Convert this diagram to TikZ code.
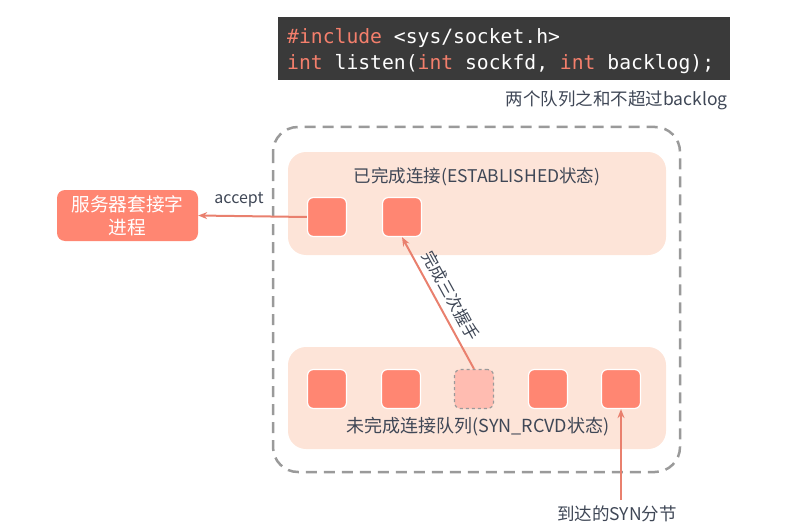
\documentclass[tikz,border=0pt]{standalone}
\usepackage{fontspec}
\setmainfont{Noto Sans CJK SC}
\setmonofont{DejaVu Sans Mono}
\usetikzlibrary{arrows.meta}
\definecolor{salmon}{HTML}{FF8672}
\definecolor{band}{HTML}{FDE4D8}
\definecolor{arrowc}{HTML}{E9806E}
\definecolor{txt}{HTML}{3F4756}
\definecolor{codebg}{HTML}{3A3A3A}
\definecolor{kw}{HTML}{F47F6C}
\definecolor{dashg}{HTML}{9A9A9A}
\tikzset{
  sq/.style={draw=white, line width=1.2pt, fill=salmon, rounded corners=6pt, minimum width=39pt, minimum height=39pt, inner sep=0pt},
  bandbox/.style={fill=band, rounded corners=18pt},
  lbl/.style={text=txt, font=\fontsize{17.5}{20}\selectfont, inner sep=0pt},
  conn/.style={draw=arrowc, line width=2pt, -{Stealth[length=9pt,width=7pt]}},
}
\begin{document}
\begin{tikzpicture}[x=1pt,y=-1pt]
\useasboundingbox (0,0) rectangle (800,532);
% code box
\fill[codebg] (278,17) rectangle (730,80);
\node[anchor=base west, inner sep=0pt, font=\ttfamily\fontsize{19.7}{22}\selectfont, text=white] (code1) at (287,44) {\textcolor{kw}{\#include} <sys/socket.h>};
\node[anchor=base west, inner sep=0pt, font=\ttfamily\fontsize{19.7}{22}\selectfont, text=white] (code2) at (287,70) {\textcolor{kw}{int} listen(\textcolor{kw}{int} sockfd, \textcolor{kw}{int} backlog);};
\node[lbl, anchor=base east] (sum) at (728,106) {两个队列之和不超过backlog};
% outer dashed box
\draw[dashg, line width=2.5pt, dash pattern=on 11pt off 7pt, rounded corners=25pt] (273,127) rectangle (680,472);
% bands
\fill[bandbox] (288,152) rectangle (666,255);
\fill[bandbox] (288,347) rectangle (666,449);
\node[lbl] (esttitle) at (477,177) {已完成连接(ESTABLISHED状态)};
\node[lbl, font=\fontsize{18}{20}\selectfont] (syntitle) at (478,427) {未完成连接队列(SYN\_RCVD状态)};
% top squares
\node[sq] (t1) at (327,217) {};
\node[sq] (t2) at (402,217) {};
% bottom squares
\node[sq] (b1) at (327,389) {};
\node[sq] (b2) at (401,389) {};
\node[sq, draw=dashg, dashed, fill=salmon!55!white, line width=1.2pt] (b3) at (474,389) {};
\node[sq] (b4) at (548,389) {};
\node[sq] (b5) at (621,389) {};
% server box
\node[fill=salmon, rounded corners=8pt, minimum width=141pt, minimum height=51pt, inner sep=0pt, text=white, align=center, font=\fontsize{18.7}{23}\selectfont] (srv) at (127.5,215.5) {服务器套接字\\进程};
% arrows
\draw[conn] (t1.west) -- (srv.east);
\node[text=txt, font=\fontsize{16}{18}\selectfont, inner sep=0pt] (acc) at (239,200) {accept};
\draw[conn] (b3.north) -- (t2.south) node[pos=0.5, sloped, above=6pt, lbl, font=\fontsize{16.5}{18}\selectfont] (hs) {完成三次握手};
\coordinate (synin) at (621,500);
\draw[conn] (synin) -- (b5.south);
\node[lbl] (synlbl) at (617,514) {到达的SYN分节};
\end{tikzpicture}
\end{document}
